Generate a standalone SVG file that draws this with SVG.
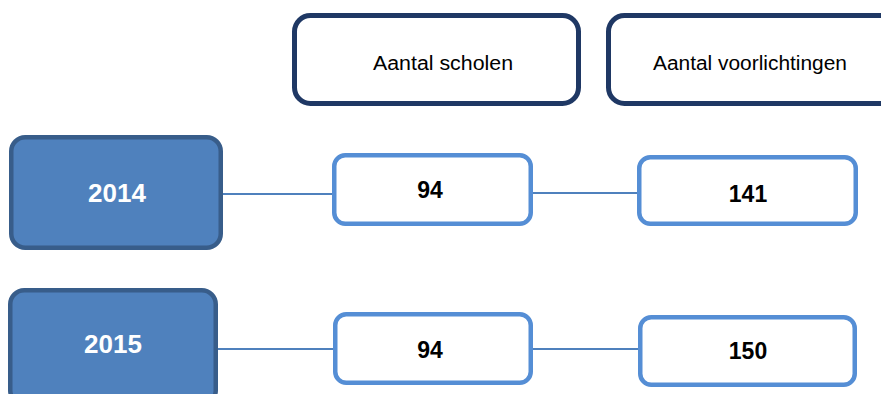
<svg xmlns="http://www.w3.org/2000/svg" width="881" height="394" viewBox="0 0 881 394">
<style>
.hdr{fill:#ffffff;stroke:#1F3864;stroke-width:5}
.yr{fill:#4F81BD;stroke:#385D8A;stroke-width:4.5}
.val{fill:#ffffff;stroke:#558ED5;stroke-width:4.5}
.con{stroke:#4F81BD;stroke-width:2;fill:none}
.ht{font-family:"Liberation Sans",Arial,sans-serif;font-size:20px;fill:#000000;text-anchor:middle}
.yt{font-family:"Liberation Sans",Arial,sans-serif;font-size:26px;font-weight:bold;fill:#ffffff;text-anchor:middle}
.vt{font-family:"Liberation Sans",Arial,sans-serif;font-size:23px;font-weight:bold;fill:#000000;text-anchor:middle}
</style>
<rect width="881" height="394" fill="#ffffff"/>
<g id="connectors">
<line class="con" x1="222" y1="194" x2="333" y2="194"/>
<line class="con" x1="532" y1="193" x2="638" y2="193"/>
<line class="con" x1="217" y1="349" x2="334" y2="349"/>
<line class="con" x1="532" y1="349" x2="639" y2="349"/>
</g>
<g id="header-scholen">
<rect class="hdr" x="294.5" y="15.5" width="284" height="88" rx="16"/>
<text class="ht" x="443" y="69.5" textLength="140" lengthAdjust="spacingAndGlyphs">Aantal scholen</text>
</g>
<g id="header-voorlichtingen">
<rect class="hdr" x="608.5" y="15.5" width="300" height="88" rx="16"/>
<text class="ht" x="750" y="69.5" textLength="194" lengthAdjust="spacingAndGlyphs">Aantal voorlichtingen</text>
</g>
<g id="year-2014">
<rect class="yr" x="11.25" y="137.25" width="209.5" height="110.5" rx="14"/>
<text class="yt" x="117" y="202">2014</text>
</g>
<g id="scholen-2014">
<rect class="val" x="334.25" y="155.25" width="196.5" height="68.5" rx="11"/>
<text class="vt" x="430" y="198">94</text>
</g>
<g id="voorlichtingen-2014">
<rect class="val" x="639.25" y="157.25" width="216.5" height="66.5" rx="11"/>
<text class="vt" x="748" y="202">141</text>
</g>
<g id="year-2015">
<rect class="yr" x="10.25" y="290.25" width="205.5" height="114" rx="14"/>
<text class="yt" x="113" y="353">2015</text>
</g>
<g id="scholen-2015">
<rect class="val" x="335.25" y="314.25" width="195.5" height="68.5" rx="11"/>
<text class="vt" x="430" y="358">94</text>
</g>
<g id="voorlichtingen-2015">
<rect class="val" x="640.25" y="317.25" width="214.5" height="67.5" rx="11"/>
<text class="vt" x="748" y="359">150</text>
</g>
</svg>
